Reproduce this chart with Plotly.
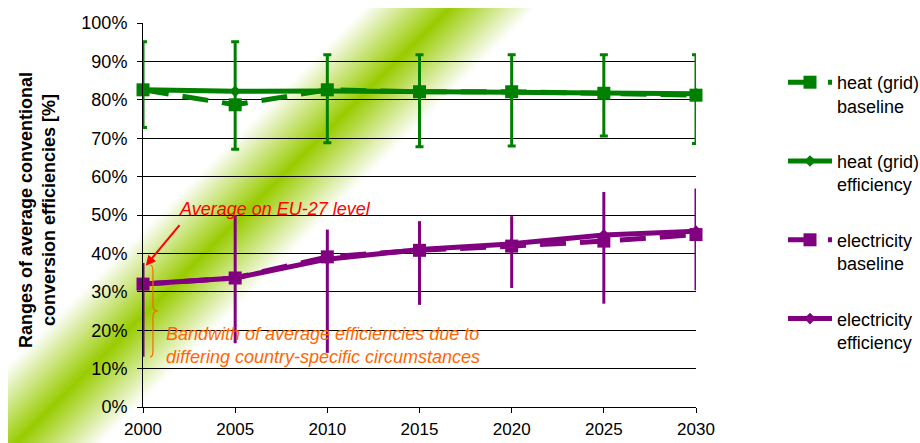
import base64, struct, zlib, math
import plotly.graph_objects as go

# ---------------- data ----------------
years = [2000, 2005, 2010, 2015, 2020, 2025, 2030]

heat_baseline = [82.6, 78.7, 82.6, 82.1, 82.1, 81.7, 81.2]
heat_efficiency = [82.6, 82.2, 82.3, 82.1, 82.2, 82.0, 81.6]
heat_low = [72.8, 67.1, 68.8, 67.8, 68.0, 70.6, 68.6]
heat_high = [95.1, 95.1, 91.7, 91.7, 91.7, 91.7, 91.7]

elec_baseline = [32.0, 33.6, 39.1, 40.8, 41.9, 43.2, 44.9]
elec_efficiency = [32.0, 33.6, 38.5, 41.0, 42.5, 44.8, 45.8]
elec_low = [13.1, 16.6, 14.1, 26.6, 31.0, 26.9, 30.4]
elec_high = [37.5, 50.0, 46.2, 48.4, 49.7, 56.0, 56.9]

y_ticks = list(range(0, 101, 10))
y_ticklabels = [f"{v}%" for v in y_ticks]

GREEN = "#008000"
PURPLE = "#800080"
RED = "#FF0000"
ORANGE = "#FF6600"
FONT = "Liberation Sans, Arial, sans-serif"

W, H = 920, 443
L, R, T, B = 143, 224, 23, 36
PW, PH = W - L - R, H - T - B


def px_to_paper(px, py):
    return (px - L) / PW, (H - B - py) / PH


# ---------------- diagonal green band background (generated PNG) ----------------
def make_band_png(x0, y0, w, h, scale=2, c=(153, 204, 0), centre=458, half=60):
    iw, ih = w // scale, h // scale
    rows = []
    for j in range(ih):
        Y = y0 + j * scale + scale / 2
        row = bytearray()
        for i in range(iw):
            X = x0 + i * scale + scale / 2
            d = abs((X + Y) - centre) / math.sqrt(2)
            t = max(0.0, 1.0 - d / half)
            row += bytes(int(round(255 - t * (255 - ch))) for ch in c)
        rows.append(b"\x00" + bytes(row))
    raw = b"".join(rows)

    def chunk(tag, data):
        return struct.pack(">I", len(data)) + tag + data + struct.pack(">I", zlib.crc32(tag + data) & 0xFFFFFFFF)

    png = b"\x89PNG\r\n\x1a\n" + chunk(b"IHDR", struct.pack(">IIBBBBB", iw, ih, 8, 2, 0, 0, 0)) \
        + chunk(b"IDAT", zlib.compress(raw, 9)) + chunk(b"IEND", b"")
    return "data:image/png;base64," + base64.b64encode(png).decode()


bx0, by0 = 8, 8
bw, bh = W - bx0, H - by0
band_src = make_band_png(bx0, by0, bw, bh)
img_x, img_y = px_to_paper(bx0, by0)

fig = go.Figure()


def err(vals, lo, hi, color, cap):
    return dict(type="data", symmetric=False,
                array=[h - v for v, h in zip(vals, hi)],
                arrayminus=[v - l for v, l in zip(vals, lo)],
                color=color, thickness=3, width=cap)


fig.add_trace(go.Scatter(
    x=years, y=heat_baseline, name="heat (grid)<br>baseline", legendgroup="a",
    mode="lines+markers", cliponaxis=False,
    line=dict(color=GREEN, width=5, dash="26px,14px"),
    marker=dict(symbol="square", size=13, color=GREEN)))
fig.add_trace(go.Scatter(
    x=years, y=heat_efficiency, name="heat (grid)<br>efficiency", legendgroup="b",
    mode="lines+markers", cliponaxis=False,
    line=dict(color=GREEN, width=5),
    marker=dict(symbol="diamond", size=9, color=GREEN),
    error_y=err(heat_efficiency, heat_low, heat_high, GREEN, 4)))
fig.add_trace(go.Scatter(
    x=years, y=elec_baseline, name="electricity<br>baseline", legendgroup="c",
    mode="lines+markers", cliponaxis=False,
    line=dict(color=PURPLE, width=5, dash="26px,14px"),
    marker=dict(symbol="square", size=13, color=PURPLE)))
fig.add_trace(go.Scatter(
    x=years, y=elec_efficiency, name="electricity<br>efficiency", legendgroup="d",
    mode="lines+markers", cliponaxis=False,
    line=dict(color=PURPLE, width=5),
    marker=dict(symbol="diamond", size=9, color=PURPLE),
    error_y=err(elec_efficiency, elec_low, elec_high, PURPLE, 0)))

# curly brace (orange) next to the 2000 electricity range
xa, xb, xc = 2000.38, 2000.54, 2000.81
ya, yb, ym, yc, yd = 36.98, 35.4, 25.0, 14.6, 13.02
brace = (f"M {xa},{ya} Q {xb},{ya} {xb},{yb} L {xb},{ym + 1.5} Q {xb},{ym} {xc},{ym} "
         f"Q {xb},{ym} {xb},{ym - 1.5} L {xb},{yc} Q {xb},{yd} {xa},{yd}")
fig.add_shape(type="path", path=brace, xref="x", yref="y",
              line=dict(color=ORANGE, width=1.2), layer="above")

annots = [
    dict(x=2001.84, y=51.6, xref="x", yref="y", xanchor="left", yanchor="middle",
         text="<i>Average on EU-27 level</i>", showarrow=False,
         font=dict(family=FONT, size=18, color=RED)),
    dict(x=2000.15, y=36.8, xref="x", yref="y", text="", showarrow=True,
         ax=35, ay=-42, arrowcolor=RED, arrowwidth=2, arrowhead=2, arrowsize=1),
    dict(x=2001.14, y=15.9, xref="x", yref="y", xanchor="left", yanchor="middle", align="left",
         text="<i>Bandwith of average efficiencies due to<br>differing country-specific circumstances</i>",
         showarrow=False, font=dict(family=FONT, size=18, color=ORANGE)),
]
tx, ty = px_to_paper(37, 210)
annots.append(dict(x=tx, y=ty, xref="paper", yref="paper", xanchor="center", yanchor="middle",
                   textangle=-90, showarrow=False,
                   text="<b>Ranges of average conventional<br>conversion efficiencies [%]</b>",
                   font=dict(family=FONT, size=18, color="black")))

lx, ly = px_to_paper(783, 64)

fig.update_layout(
    width=W, height=H,
    margin=dict(l=L, r=R, t=T, b=B, pad=0, autoexpand=False),
    paper_bgcolor="white", plot_bgcolor="rgba(0,0,0,0)",
    font=dict(family=FONT, size=18, color="black"),
    showlegend=True,
    legend=dict(x=lx, y=ly, xanchor="left", yanchor="top", valign="top",
                tracegroupgap=29, itemwidth=44, bgcolor="rgba(0,0,0,0)",
                font=dict(family=FONT, size=18, color="black")),
    images=[dict(source=band_src, xref="paper", yref="paper", x=img_x, y=img_y,
                 sizex=bw / PW, sizey=bh / PH, xanchor="left", yanchor="top",
                 sizing="stretch", layer="below")],
    annotations=annots,
    xaxis=dict(range=[2000, 2030], tickvals=years, showgrid=False, zeroline=False,
               showline=True, linecolor="black", linewidth=1, automargin=False,
               ticks="outside", ticklen=5, tickcolor="black",
               tickfont=dict(family=FONT, size=17), ticklabelstandoff=2),
    yaxis=dict(range=[0, 100], tickvals=y_ticks, ticktext=y_ticklabels, showgrid=True,
               gridcolor="black", gridwidth=1, zeroline=False, automargin=False,
               showline=True, linecolor="black", linewidth=1,
               ticks="outside", ticklen=5, tickcolor="black",
               tickfont=dict(family=FONT, size=18), ticklabelstandoff=6),
)

fig.write_html("out.html")
